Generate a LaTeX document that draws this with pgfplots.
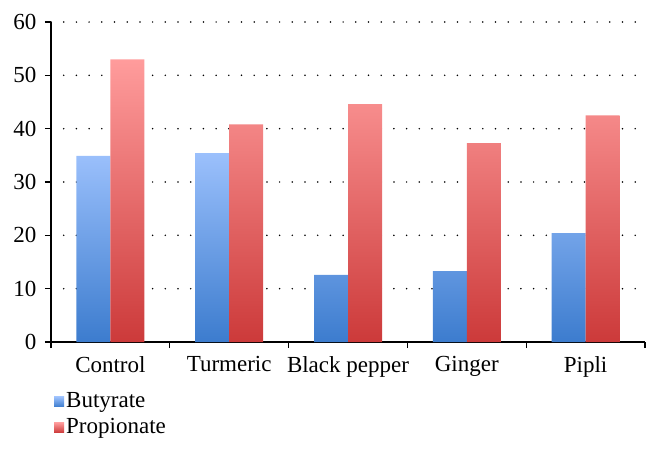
\documentclass[border=0pt]{standalone}
\usepackage{fontspec}
\setmainfont{Liberation Serif}
\usepackage{pgfplots}
\pgfplotsset{compat=1.18}
\definecolor{btop}{RGB}{155,192,252}
\definecolor{bbot}{RGB}{60,124,206}
\definecolor{rtop}{RGB}{255,156,156}
\definecolor{rbot}{RGB}{204,58,58}

\begin{document}
\begin{tikzpicture}
\useasboundingbox (0,0) rectangle (660pt,455pt);
\begin{axis}[
    at={(51pt,113pt)}, anchor=south west,
    scale only axis, width=594pt, height=320pt,
    font=\fontsize{23}{27}\selectfont,
    /pgf/number format/assume math mode=true,
    ybar=0pt, bar width=34pt,
    xmin=-0.5, xmax=4.5, ymin=0, ymax=60,
    ytick={0,10,...,60},
    xtick={0,...,4},
    xticklabels={Control,Turmeric,Black pepper,Ginger,Pipli},
    minor xtick={-0.5,0.5,...,4.5},
    axis lines*=left,
    axis line style={line width=1.2pt, black},
    tick align=outside,
    major tick length=6pt, minor tick length=6pt,
    x tick style={draw=none},
    minor x tick style={draw=black, line width=1.2pt},
    y tick style={black, line width=1.2pt},
    yticklabel style={xshift=-5pt},
    xticklabel style={yshift=-5pt},
    ymajorgrids=true,
    grid style={black, line width=1.7pt, dash pattern=on 0pt off 12.7pt, line cap=round},
    legend style={at={(0,-0.145)}, anchor=north west, draw=none, fill=none,
        legend cell align=left, row sep=5pt},
    legend image code/.code={},
    ]
    \addplot[draw=none, shading=axis, top color=btop, bottom color=bbot,
        legend image code/.code={\shade[top color=btop, bottom color=bbot] (0pt,-6pt) rectangle (10pt,4pt);}]
        coordinates {(0,34.9)(1,35.4)(2,12.6)(3,13.3)(4,20.4)};
    \addplot[draw=none, shading=axis, top color=rtop, bottom color=rbot,
        legend image code/.code={\shade[top color=rtop, bottom color=rbot] (0pt,-6pt) rectangle (10pt,4pt);}]
        coordinates {(0,53.0)(1,40.8)(2,44.6)(3,37.3)(4,42.5)};
    \legend{Butyrate,Propionate}
\end{axis}
\end{tikzpicture}
\end{document}
